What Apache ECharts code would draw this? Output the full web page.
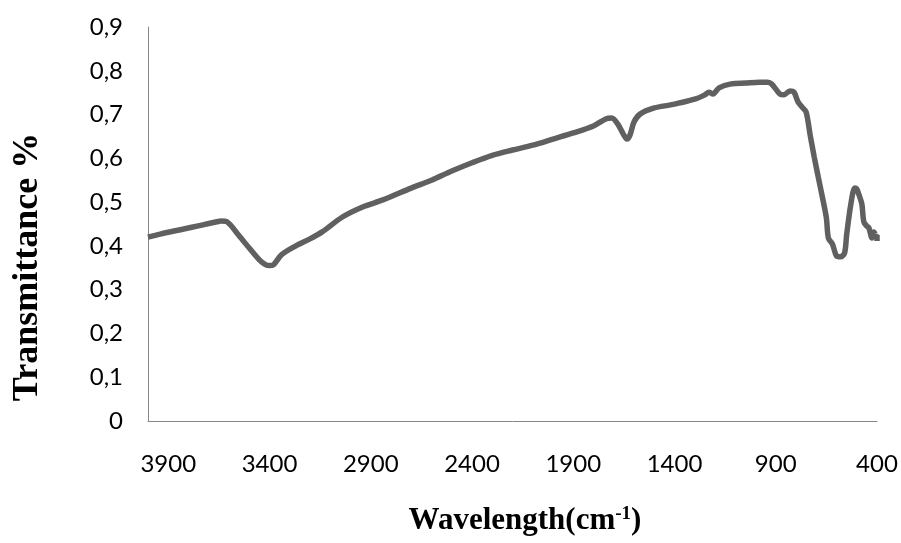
<!DOCTYPE html>
<html>
<head>
<meta charset="utf-8">
<script src="https://cdn.jsdelivr.net/npm/echarts@6/dist/echarts.min.js"></script>
<style>
  html, body { margin: 0; padding: 0; background: #fff; }
  #chart { width: 901px; height: 543px; }
</style>
</head>
<body>
<div id="chart"></div>
<script>
// wavenumbers (cm-1) and transmittance
const wavenumbers = [4000, 3940, 3840, 3740, 3660, 3640, 3610, 3550, 3500, 3450, 3420, 3400, 3380, 3340, 3270, 3200, 3140, 3040, 2940, 2840,
  2700, 2600, 2500, 2400, 2300, 2200, 2100, 2000, 1900, 1800, 1740, 1710, 1680, 1650, 1635, 1620, 1600, 1570, 1500, 1420,
  1380, 1300, 1250, 1230, 1210, 1180, 1120, 1050, 980, 940, 920, 880, 860, 830, 810, 790, 770, 750, 730, 710,
  690, 670, 650, 640, 620, 600, 580, 560, 550, 530, 510, 500, 490, 475, 465, 450, 440, 425, 415, 405, 400, 400]
const transmittance = [0.420, 0.427, 0.437, 0.447, 0.455, 0.457, 0.455, 0.423, 0.395, 0.368, 0.357, 0.355, 0.357, 0.380, 0.400, 0.416, 0.432, 0.466, 0.489, 0.505,
  0.532, 0.550, 0.571, 0.590, 0.607, 0.619, 0.630, 0.644, 0.658, 0.674, 0.690, 0.692, 0.678, 0.653, 0.644, 0.653, 0.683, 0.701, 0.715, 0.722,
  0.726, 0.735, 0.745, 0.751, 0.747, 0.761, 0.770, 0.772, 0.774, 0.774, 0.770, 0.747, 0.745, 0.754, 0.751, 0.729, 0.717, 0.706, 0.653, 0.603,
  0.557, 0.512, 0.464, 0.418, 0.404, 0.377, 0.375, 0.384, 0.425, 0.493, 0.532, 0.530, 0.518, 0.496, 0.455, 0.445, 0.441, 0.418, 0.432, 0.423, 0.425, 0.411]
const xTicks = [400, 900, 1400, 1900, 2400, 2900, 3400, 3900]

const chart = echarts.init(document.getElementById('chart'))

const option = {
  animation: false,
  grid: {
    left: 148,
    right: 24,
    top: 27,
    bottom: 122,
    outerBoundsMode: 'none'
  },
  xAxis: {
    type: 'value',
    inverse: true,
    min: 400,
    max: 4000,
    axisLine: { lineStyle: { color: '#878787', width: 1 } },
    axisTick: { show: false },
    splitLine: { show: false },
    axisLabel: {
      customValues: xTicks,
      margin: 31,
      color: '#000',
      fontFamily: 'Lato',
      fontSize: 24,
      formatter: v => String(v)
    }
  },
  yAxis: {
    type: 'value',
    min: 0,
    max: 0.9,
    interval: 0.1,
    axisLine: { show: true, lineStyle: { color: '#878787', width: 1 } },
    axisTick: { show: false },
    splitLine: { show: false },
    axisLabel: {
      margin: 25,
      color: '#000',
      fontFamily: 'Lato',
      fontSize: 24,
      formatter: v => v === 0 ? '0' : v.toFixed(1).replace('.', ',')
    }
  },
  graphic: [{
    type: 'text',
    x: 28,
    y: 267,
    rotation: Math.PI / 2,
    style: {
      text: 'Transmittance %',
      fontFamily: 'Liberation Serif',
      fontWeight: 'bold',
      fontSize: 36,
      fill: '#000',
      align: 'center',
      verticalAlign: 'middle'
    }
  }, {
    type: 'text',
    x: 525,
    y: 521,
    style: {
      text: 'Wavelength(cm{s|-1})',
      fontFamily: 'Liberation Serif',
      fontWeight: 'bold',
      fontSize: 31,
      fill: '#000',
      align: 'center',
      verticalAlign: 'middle',
      rich: {
        s: {
          fontFamily: 'Liberation Serif',
          fontWeight: 'bold',
          fontSize: 19,
          verticalAlign: 'top',
          padding: [0, 0, 14, 0]
        }
      }
    }
  }],
  series: [{
    type: 'line',
    data: wavenumbers.map((w, i) => [w, transmittance[i]]),
    showSymbol: false,
    smooth: 0.3,
    lineStyle: { color: '#606060', width: 5.5 },
    silent: true
  }]
}

chart.setOption(option)
</script>
</body>
</html>
